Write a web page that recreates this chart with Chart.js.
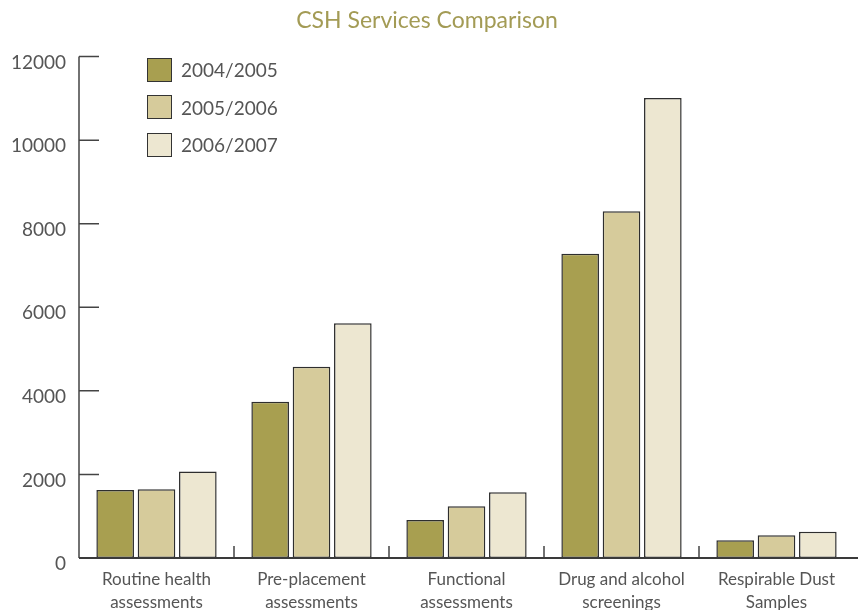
<!DOCTYPE html>
<html>
<head>
<meta charset="utf-8">
<script src="https://cdn.jsdelivr.net/npm/chart.js@4/dist/chart.umd.min.js"></script>
<style>
  html, body { margin: 0; padding: 0; background: #fff; }
  #wrap { position: relative; width: 858px; height: 610px; }
  #legend { position: absolute; left: 147px; top: 57px; font-family: Lato, 'Open Sans', sans-serif; font-size: 19px; color: #555; }
  #legend div { display: flex; align-items: center; height: 25px; margin-bottom: 12.5px; }
  #legend span.box { width: 23px; height: 22px; border: 1.5px solid #333; margin-right: 9px; box-sizing: content-box; }
</style>
</head>
<body>
<div id="wrap">
  <canvas id="chart" width="858" height="610"></canvas>
  <div id="legend"></div>
</div>
<script>
const categories = [
  ['Routine health', 'assessments'],
  ['Pre-placement', 'assessments'],
  ['Functional', 'assessments'],
  ['Drug and alcohol', 'screenings'],
  ['Respirable Dust', 'Samples']
];
const seriesNames = ['2004/2005', '2005/2006', '2006/2007'];
const values2004 = [1630, 3740, 910, 7280, 425];
const values2005 = [1645, 4580, 1240, 8300, 545];
const values2006 = [2070, 5620, 1575, 11010, 630];
const colors = ['#a89f50', '#d6cb9b', '#ede7d1'];
const yTicks = [0, 2000, 4000, 6000, 8000, 10000, 12000];

// short inward ticks instead of full grid lines, plus the long baseline
const axisMarks = {
  id: 'axisMarks',
  afterDatasetsDraw(chart) {
    const { ctx, chartArea, scales: { x, y } } = chart;
    ctx.save();
    ctx.strokeStyle = '#444';
    ctx.lineWidth = 1.5;
    ctx.beginPath();
    yTicks.forEach(v => {
      if (v === 0) return;
      const py = y.getPixelForValue(v);
      ctx.moveTo(chartArea.left, py);
      ctx.lineTo(chartArea.left + 20, py);
    });
    for (let i = 1; i < categories.length; i++) {
      const px = (x.getPixelForValue(i - 1) + x.getPixelForValue(i)) / 2;
      ctx.moveTo(px, chartArea.bottom);
      ctx.lineTo(px, chartArea.bottom - 12);
    }
    ctx.moveTo(chartArea.left, chartArea.top);
    ctx.lineTo(chartArea.left, chartArea.bottom);
    ctx.stroke();
    ctx.strokeStyle = '#3a3a3a';
    ctx.lineWidth = 2;
    ctx.beginPath();
    ctx.moveTo(chartArea.left, chartArea.bottom);
    ctx.lineTo(chart.width, chartArea.bottom);
    ctx.stroke();
    ctx.restore();
  }
};

const datasets = [values2004, values2005, values2006].map((vals, i) => ({
  label: seriesNames[i],
  data: vals,
  backgroundColor: colors[i],
  borderColor: '#2e2e2e',
  borderWidth: 1.5,
  borderSkipped: false,
  categoryPercentage: 0.8,
  barPercentage: 0.91
}));

new Chart(document.getElementById('chart'), {
  type: 'bar',
  data: { labels: categories, datasets },
  options: {
    responsive: false,
    animation: false,
    layout: { padding: { top: 0, right: 4, left: 0, bottom: 0 } },
    plugins: {
      legend: { display: false },
      tooltip: { enabled: false },
      title: {
        display: true,
        text: 'CSH Services Comparison',
        color: '#a39b55',
        font: { family: 'Lato, "Open Sans", sans-serif', size: 23, weight: 'normal' },
        padding: { top: 7, bottom: 22 }
      }
    },
    scales: {
      x: {
        grid: { display: false, drawTicks: false },
        border: { display: false },
        ticks: {
          color: '#555',
          padding: 10,
          maxRotation: 0,
          font: { family: 'Lato, "Open Sans", sans-serif', size: 17, lineHeight: 1.35 }
        },
        afterFit(scale) { scale.height = 52; }
      },
      y: {
        min: 0,
        max: 12000,
        grid: { display: false, drawTicks: false },
        border: { display: false },
        afterBuildTicks(scale) { scale.ticks = yTicks.map(v => ({ value: v })); },
        ticks: {
          color: '#555',
          padding: 13,
          labelOffset: 6,
          callback: v => String(v),
          font: { family: 'Lato, "Open Sans", sans-serif', size: 19 }
        },
        afterFit(scale) { scale.width = 79; }
      }
    }
  },
  plugins: [axisMarks]
});

const legend = document.getElementById('legend');
seriesNames.forEach((name, i) => {
  const row = document.createElement('div');
  row.innerHTML = '<span class="box" style="background:' + colors[i] + '"></span>' + name;
  legend.appendChild(row);
});
</script>
</body>
</html>
